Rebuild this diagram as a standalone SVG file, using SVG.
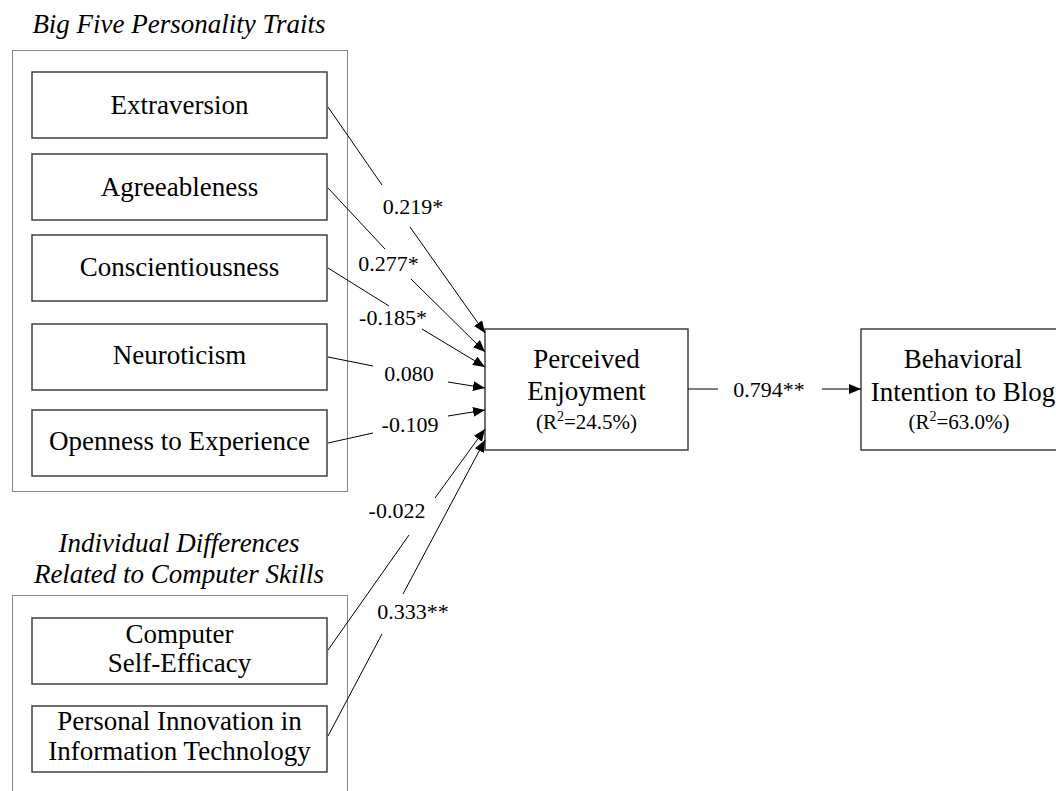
<svg xmlns="http://www.w3.org/2000/svg" width="1056" height="791" viewBox="0 0 1056 791">
<style>
  .bg { fill: #ffffff; }
  .group { fill: none; stroke: #111111; stroke-width: 1; stroke-dasharray: 1 1; }
  .box { fill: #ffffff; stroke: #333333; stroke-width: 1.4; }
  text { font-family: "Liberation Serif", "Times New Roman", "DejaVu Serif", serif; fill: #000; text-anchor: middle; }
  .title { font-style: italic; font-size: 27px; }
  .node { font-size: 27px; }
  .r2 { font-size: 21px; }
  .lbl { font-size: 22px; }
  .edge { fill: none; stroke: #000000; stroke-width: 1; marker-end: url(#arrow); }
</style>
<defs>
  <marker id="arrow" markerUnits="userSpaceOnUse" viewBox="0 0 12 10" refX="12" refY="5" markerWidth="12" markerHeight="10" orient="auto">
    <path d="M0,0 L12,5 L0,10 z" fill="#000000"/>
  </marker>
</defs>
<rect class="bg" x="0" y="0" width="1056" height="791"/>

<g id="group-big-five">
  <text class="title" x="179" y="33">Big Five Personality Traits</text>
  <rect class="group" x="12.5" y="50.5" width="335" height="441"/>
</g>
<g id="group-individual-differences">
  <text class="title" x="179" y="552">Individual Differences</text>
  <text class="title" x="179" y="583">Related to Computer Skills</text>
  <rect class="group" x="12.5" y="595.5" width="335" height="220"/>
</g>

<g id="node-extraversion">
  <rect class="box" x="32" y="72" width="295" height="66"/>
  <text class="node" x="179.5" y="114">Extraversion</text>
</g>
<g id="node-agreeableness">
  <rect class="box" x="32" y="154" width="295" height="66"/>
  <text class="node" x="179.5" y="196">Agreeableness</text>
</g>
<g id="node-conscientiousness">
  <rect class="box" x="32" y="235" width="295" height="66"/>
  <text class="node" x="179.5" y="276">Conscientiousness</text>
</g>
<g id="node-neuroticism">
  <rect class="box" x="32" y="324" width="295" height="66"/>
  <text class="node" x="179.5" y="364">Neuroticism</text>
</g>
<g id="node-openness">
  <rect class="box" x="32" y="410" width="295" height="66"/>
  <text class="node" x="179.5" y="450">Openness to Experience</text>
</g>
<g id="node-cse">
  <rect class="box" x="32" y="618" width="295" height="66"/>
  <text class="node" x="179.5" y="643">Computer</text>
  <text class="node" x="179.5" y="672">Self-Efficacy</text>
</g>
<g id="node-piit">
  <rect class="box" x="32" y="706" width="295" height="66"/>
  <text class="node" x="179.5" y="730">Personal Innovation in</text>
  <text class="node" x="179.5" y="760">Information Technology</text>
</g>
<g id="node-perceived-enjoyment">
  <rect class="box" x="485" y="329" width="203" height="121"/>
  <text class="node" x="586.5" y="368">Perceived</text>
  <text class="node" x="586.5" y="400">Enjoyment</text>
  <text class="r2" x="586.5" y="429">(R<tspan font-size="14" dy="-8">2</tspan><tspan dy="8">=24.5%)</tspan></text>
</g>
<g id="node-behavioral-intention">
  <rect class="box" x="861" y="329" width="204" height="121"/>
  <text class="node" x="963" y="368">Behavioral</text>
  <text class="node" x="963" y="401">Intention to Blog</text>
  <text class="r2" x="959" y="429">(R<tspan font-size="14" dy="-8">2</tspan><tspan dy="8">=63.0%)</tspan></text>
</g>

<g id="connectors">
  <path class="edge" d="M328,107 L382,185 M410,227 L485,333"/>
  <path class="edge" d="M328,188 L385,249 M411,279 L485,352"/>
  <path class="edge" d="M328,268 L389,306 M422,329 L485,367"/>
  <path class="edge" d="M328,357 L373,366 M448,382 L485,388"/>
  <path class="edge" d="M328,443 L373,433 M448,416 L485,410"/>
  <path class="edge" d="M328,650 L409,535 M435,498 L485,429"/>
  <path class="edge" d="M328,736 L382,634 M403,594 L485,440"/>
  <path class="edge" d="M688,389 L718,389 M822,389 L861,389"/>
  <text class="lbl" x="413" y="214">0.219*</text>
  <text class="lbl" x="388.5" y="271">0.277*</text>
  <text class="lbl" x="393" y="325">-0.185*</text>
  <text class="lbl" x="409" y="381">0.080</text>
  <text class="lbl" x="410" y="432">-0.109</text>
  <text class="lbl" x="397" y="518">-0.022</text>
  <text class="lbl" x="413" y="619">0.333**</text>
  <text class="lbl" x="769" y="397">0.794**</text>
</g>
</svg>
